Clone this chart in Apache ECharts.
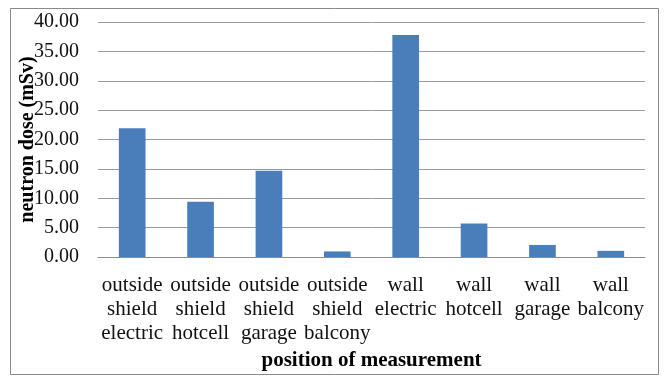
<!DOCTYPE html>
<html>
<head>
<meta charset="utf-8">
<script src="https://cdn.jsdelivr.net/npm/echarts@6/dist/echarts.min.js"></script>
<style>
  html, body { margin: 0; padding: 0; background: #fff; }
  #chart { width: 664px; height: 377px; }
</style>
</head>
<body>
<div id="chart"></div>
<script>
// positions of measurement (multi-line labels)
const positions = [
  "outside\nshield\nelectric",
  "outside\nshield\nhotcell",
  "outside\nshield\ngarage",
  "outside\nshield\nbalcony",
  "wall\nelectric",
  "wall\nhotcell",
  "wall\ngarage",
  "wall\nbalcony",
];
// neutron dose (mSv)
const doses = [21.9, 9.4, 14.7, 0.95, 37.8, 5.7, 2.05, 1.05];

const yTitle = "neutron dose (mSv)";
const xTitle = "position of measurement";

const font = "'Liberation Serif', 'Times New Roman', serif";

const chart = echarts.init(document.getElementById("chart"));

chart.setOption({
  animation: false,
  textStyle: { fontFamily: font },
  graphic: [
    {
      type: "rect",
      left: 8,
      top: 6,
      shape: { width: 648, height: 366 },
      style: { fill: "none", stroke: "#8a8a8a", lineWidth: 1 },
      silent: true,
    },
  ],
  grid: { left: 98, right: 19, top: 22, bottom: 120, outerBoundsMode: "none" },
  xAxis: {
    type: "category",
    data: positions,
    name: xTitle,
    nameLocation: "middle",
    nameGap: 93,
    nameMoveOverlap: false,
    nameTextStyle: { fontFamily: font, fontSize: 21, fontWeight: "bold", color: "#000" },
    axisLine: { lineStyle: { color: "#8c8c8c", width: 1 } },
    axisTick: { show: false },
    axisLabel: {
      interval: 0,
      margin: 16,
      fontFamily: font,
      fontSize: 21,
      lineHeight: 24,
      color: "#111",
    },
  },
  yAxis: {
    type: "value",
    min: 0,
    max: 40,
    interval: 5,
    name: yTitle,
    nameLocation: "middle",
    nameGap: 60,
    nameMoveOverlap: false,
    nameTextStyle: { fontFamily: font, fontSize: 20, fontWeight: "bold", color: "#000" },
    axisLine: { show: false },
    axisTick: { show: false },
    axisLabel: {
      margin: 19,
      fontFamily: font,
      fontSize: 20,
      color: "#111",
      formatter: (v) => v.toFixed(2),
    },
    splitLine: { lineStyle: { color: "#9a9a9a", width: 1 } },
  },
  series: [
    {
      type: "bar",
      data: doses,
      barWidth: "39%",
      itemStyle: { color: "#4a7ebb" },
    },
  ],
});
</script>
</body>
</html>
